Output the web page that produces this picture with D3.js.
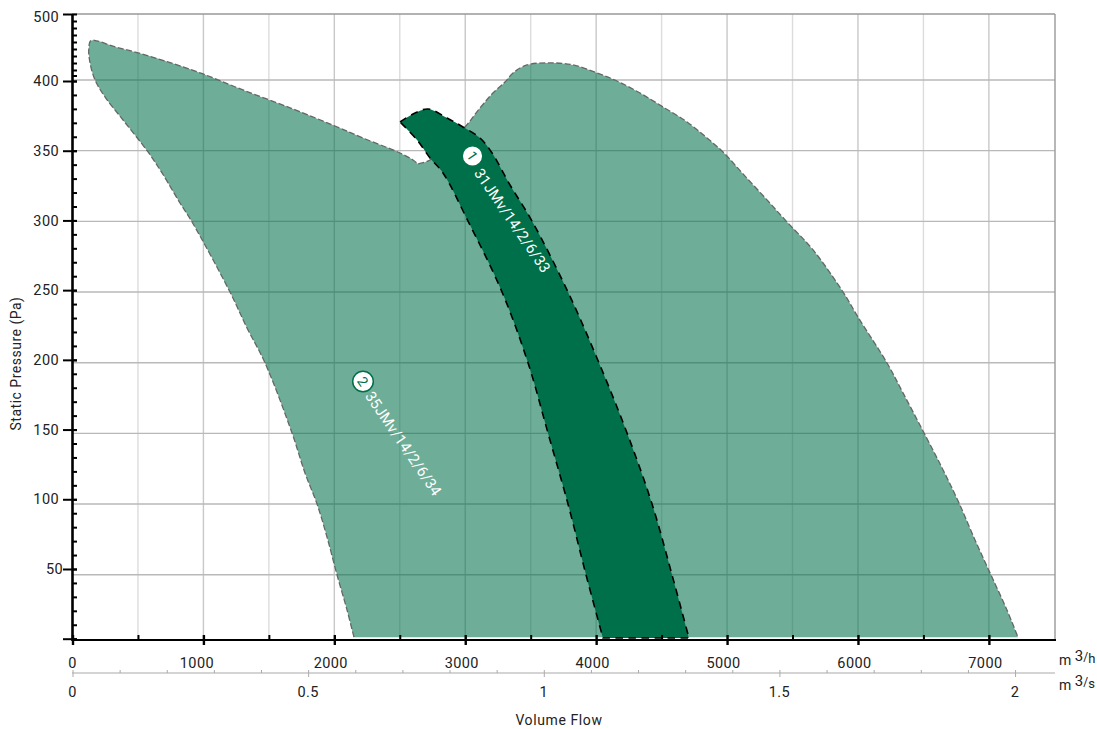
<!DOCTYPE html>
<html><head><meta charset="utf-8">
<script src="https://cdn.jsdelivr.net/npm/d3@7/dist/d3.min.js"></script>
<style>
html,body{margin:0;padding:0;background:#fff}
svg{display:block}
text{font-family:Roboto,sans-serif;fill:#222}
</style></head><body><svg id="c" width="1097" height="729"></svg>
<script>
// Fan operating envelopes: [volume flow m3/h, static pressure Pa]
const fan2Label = "35JMv/14/2/6/34";
const fan1Label = "31JMv/14/2/6/33";
const fan2Envelope = [[2150,2],[2097,21.5],[2021,46.5],[1944,73.7],[1868,97.3],[1776,119.5],[1677,148.1],[1471,198.2],[1333,223.3],[1203,249],[913,299.1],[821,312.7],[684,334.2],[577,349.2],[386,372.1],[248,388.6],[172,401.5],[134,427],[124,446],[139,460],[185,460],[309,452],[500,442],[720,429],[997,410.5],[1302,393.6],[1684,380],[2005,367.8],[2219,359.2],[2502,348.5],[2601,343.5],[2639,340.6],[2639,340.6],[2731,343.5],[2998,367.1],[3113,380.7],[3212,391.4],[3304,399.3],[3365,412],[3472,424],[3648,427],[3823,424],[4007,412],[4159,400],[4335,391.4],[4511,381.4],[4694,370.7],[4847,359.2],[4969,349.2],[5122,333.5],[5305,314.9],[5458,299.1],[5657,279.1],[5886,249],[6000,231.1],[6222,198.2],[6344,176.8],[6505,148.1],[6650,121.7],[6772,98],[6894,71.6],[7016,46.5],[7138,21.5],[7222,2]];
const fan1Envelope = [[2502,370.7],[2502,370.7],[2601,376.4],[2716,380],[2861,373.5],[2983,367.1],[3113,359.2],[3205,348.5],[3342,325.6],[3510,299.8],[3785,249],[4022,198.2],[4236,148.1],[4427,97.3],[4580,46.5],[4709,1.4],[4709,1.4],[4052,1.4],[4052,1.4],[3923,46.5],[3785,97.3],[3632,148.1],[3480,198.2],[3281,249],[3021,299.8],[2830,334.2],[2731,344.9],[2632,357.8],[2502,370.7],[2502,370.7]];
const yLabelTicks = [50,100,150,200,250,300,350,400,500];
const yMajorTicks = [0,50,100,150,200,250,300,350,400,500];
const yGridValues = [50,100,150,200,250,300,350,400,500];
const yMinorTicks = d3.range(0,500,10);
const flowMajor = [0,1000,2000,3000,4000,5000,6000,7000];
const flowGrid = [500,1000,1500,2000,2500,3000,3500,4000,4500,5000,5500,6000,6500,7000];
const secMajor = [0,0.5,1,1.5,2];
const secMinor = d3.range(0,2.05,0.1);
const flowEnd = 7505;

const svg = d3.select("#c");
const x = d3.scaleLinear().domain([0,flowEnd]).range([72.5,1055]);
const xSec = d3.scaleLinear().domain([0,flowEnd/3600]).range([72.5,1055]);
const y = d3.scaleLinear().domain([0,400,500]).range([640,81,14]);
const yTick = d3.scaleLinear().domain([0,400,420,500]).range([638.7,81,70,14]);
const yGrid = d3.scaleLinear().domain([50,400,500]).range([574.7,80,14]);
const GREEN = "#00704a";

// grid
const grid = svg.append("g");
grid.selectAll("line.v").data(flowGrid).join("line")
  .attr("x1",d=>x(d)).attr("x2",d=>x(d)).attr("y1",14).attr("y2",640)
  .attr("stroke",d=>d%1000?"#dcdcdc":"#c8c8c8").attr("stroke-width",1.4);
grid.selectAll("line.h").data(yGridValues).join("line")
  .attr("x1",72).attr("x2",1055).attr("y1",d=>yGrid(d)).attr("y2",d=>yGrid(d))
  .attr("stroke",d=>d===500?"#999":"#b9b9b9").attr("stroke-width",1.4);
grid.append("line").attr("x1",x(flowEnd)).attr("x2",x(flowEnd)).attr("y1",14).attr("y2",640)
  .attr("stroke","#999").attr("stroke-width",1.4);

// envelopes
const line = d3.line().x(d=>x(d[0])).y(d=>y(d[1])).curve(d3.curveCatmullRom.alpha(0.5));
svg.append("path").attr("d",line(fan2Envelope)).attr("fill",GREEN).attr("fill-opacity",.57).attr("stroke","none");
svg.append("path").attr("d",line(fan2Envelope)).attr("fill","none").attr("stroke","#666").attr("stroke-width",1.3).attr("stroke-dasharray","6,2.5");
svg.append("path").attr("d",line(fan1Envelope)).attr("fill",GREEN).attr("stroke","#000").attr("stroke-width",1.6).attr("stroke-dasharray","7.5,5.5");

// labels on the envelopes
function badge(cx,cy,n,label,lx,ly,angle){
  const g = svg.append("g");
  g.append("circle").attr("cx",cx).attr("cy",cy).attr("r",10.3).attr("fill","#fff").attr("stroke",GREEN).attr("stroke-width",1.5);
  g.append("text").attr("transform",`translate(${cx},${cy}) rotate(${angle})`).attr("text-anchor","middle").attr("dy","0.36em")
    .attr("font-size",14).style("fill",GREEN).text(n);
  g.append("text").attr("transform",`translate(${lx},${ly}) rotate(${angle})`).attr("dy","0.36em")
    .attr("font-size",15).attr("letter-spacing",0.1).style("fill","#fff").text(label);
}
badge(472.5,156,"1",fan1Label,478,170,55.6);
badge(363,381.5,"2",fan2Label,369,393,55.6);

// y axis
svg.append("line").attr("x1",72.5).attr("x2",72.5).attr("y1",14).attr("y2",641).attr("stroke","#000").attr("stroke-width",2.6);
const ya = svg.append("g").attr("transform","translate(77,0)")
  .call(d3.axisLeft(yTick).tickValues(yMajorTicks).tickSize(14).tickFormat(""));
ya.select(".domain").remove();
ya.selectAll("line").attr("stroke","#000").attr("stroke-width",2);
const ym = svg.append("g").attr("transform","translate(72,0)")
  .call(d3.axisRight(yTick).tickValues(yMinorTicks).tickSize(5).tickFormat(""));
ym.select(".domain").remove();
ym.selectAll("line").attr("stroke","#000").attr("stroke-width",2);
svg.append("g").selectAll("text").data(yLabelTicks).join("text")
  .attr("x",d=>d===50?63:59).attr("y",d=>d===500?yTick(d)+3:yTick(d)).attr("dy","0.36em")
  .attr("text-anchor","end").attr("font-size",14.5).attr("letter-spacing",0.4).text(d=>d);
svg.append("text").attr("transform","translate(16,363.5) rotate(-90)").attr("text-anchor","middle").attr("dy","0.36em")
  .attr("font-size",14).attr("letter-spacing",0.5).text("Static Pressure (Pa)");

// main x axis
svg.append("line").attr("x1",72).attr("x2",1056).attr("y1",640).attr("y2",640).attr("stroke","#000").attr("stroke-width",2.2);
const xm = svg.append("g").attr("transform","translate(0,640)")
  .call(d3.axisTop(x).tickValues(flowGrid.filter(d=>d%1000)).tickSize(5).tickFormat(""));
xm.select(".domain").remove();
xm.selectAll("line").attr("stroke","#000").attr("stroke-width",2);
const xa = svg.append("g").attr("transform","translate(0,645)")
  .call(d3.axisTop(x).tickValues(flowMajor).tickSize(10).tickFormat(""));
xa.select(".domain").remove();
xa.selectAll("line").attr("stroke","#000").attr("stroke-width",2.4);
svg.append("g").selectAll("text").data(flowMajor).join("text")
  .attr("x",d=>x(d)-(d===1000?6.5:d?3.5:0)).attr("y",663).attr("dy","0.36em").attr("text-anchor","middle")
  .attr("font-size",14.5).attr("letter-spacing",0.4).text(d=>d);

// secondary x axis
const sMin = svg.append("g").attr("transform","translate(0,673)")
  .call(d3.axisTop(xSec).tickValues(secMinor).tickSize(3).tickFormat(""));
sMin.select(".domain").remove();
sMin.selectAll("line").attr("stroke","#aaa").attr("stroke-width",1);
const sMaj = svg.append("g").attr("transform","translate(0,673)")
  .call(d3.axisBottom(xSec).tickValues(secMajor).tickSize(4).tickFormat(""));
sMaj.select(".domain").remove();
sMaj.selectAll("line").attr("stroke","#aaa").attr("stroke-width",1);
svg.append("line").attr("x1",72).attr("x2",1055).attr("y1",673).attr("y2",673).attr("stroke","#aaa").attr("stroke-width",1.2);
svg.append("g").selectAll("text").data(secMajor).join("text")
  .attr("x",d=>xSec(d)).attr("y",692).attr("dy","0.36em").attr("text-anchor","middle")
  .attr("font-size",14.5).attr("letter-spacing",0.4).text(d=>d);

// units
function unit(yb,u){
  const t = svg.append("text").attr("x",1059).attr("y",yb).attr("font-size",14);
  t.append("tspan").text("m ");
  t.append("tspan").attr("dy",-4).attr("font-size",15).text("3");
  t.append("tspan").attr("dy",0).attr("font-size",12).text("/");
  t.append("tspan").attr("dy",2).attr("font-size",13).text(u);
}
unit(665,"h");
unit(690,"s");
svg.append("text").attr("x",559).attr("y",720).attr("dy","0.36em").attr("text-anchor","middle")
  .attr("font-size",14).attr("letter-spacing",0.6).text("Volume Flow");
</script></body></html>
